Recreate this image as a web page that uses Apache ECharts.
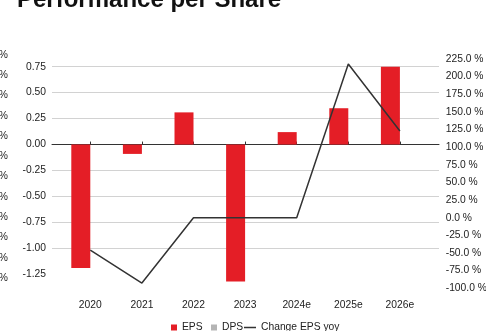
<!DOCTYPE html>
<html>
<head>
<meta charset="utf-8">
<script src="https://cdn.jsdelivr.net/npm/echarts@6/dist/echarts.min.js"></script>
<style>
html,body{margin:0;padding:0;background:#fff;}
#c{width:486px;height:331px;}
</style>
</head>
<body>
<div id="c"></div>
<script>
const categories = ['2020', '2021', '2022', '2023', '2024e', '2025e', '2026e'];
const eps = [-1.19, -0.09, 0.31, -1.32, 0.12, 0.35, 0.77];
const dps = [null, null, null, null, null, null, null];
const changeEpsYoy = [-46, -92.5, 0, 0, 0, 218, 123];
const titleText = 'Performance per Share';
const legendNames = ['EPS', 'DPS', 'Change EPS yoy'];

const FONT = 'Liberation Sans, Arial, sans-serif';
const FS = 10.3;
const TXT = '#222';
const RED = '#e41e26';
const GREY = '#b4b4b4';
const LINE = '#333333';

const chart = echarts.init(document.getElementById('c'), null, {renderer: 'canvas'});

const gridColors = ['rgba(0,0,0,0)', 'rgba(0,0,0,0)', '#d2d2d2', '#d2d2d2', '#d2d2d2', '#d2d2d2', '#d2d2d2', '#d2d2d2', '#d2d2d2', '#d2d2d2'];
const lineIcon = 'path://M0,0h0.01v0.01h-0.01z M0,2.35h12v1.3h-12z M11.99,5.99h0.01v0.01h-0.01z';

const option = {
  animation: false,
  backgroundColor: '#fff',
  textStyle: {fontFamily: FONT},
  title: {
    text: titleText, left: 12, top: -17,
    textStyle: {fontSize: 24, fontWeight: 'bold', color: '#111', fontFamily: FONT}
  },
  legend: [
    {data: [legendNames[0]], left: 171, top: 322.5, itemWidth: 6, itemHeight: 6, icon: 'rect', padding: 0,
      textStyle: {fontSize: FS, color: TXT, fontFamily: FONT}},
    {data: [legendNames[1]], left: 211, top: 322.5, itemWidth: 6, itemHeight: 6, icon: 'rect', padding: 0,
      textStyle: {fontSize: FS, color: TXT, fontFamily: FONT}},
    {data: [legendNames[2]], left: 244, top: 322.5, itemWidth: 12, itemHeight: 6, icon: lineIcon, padding: 0,
      textStyle: {fontSize: FS, color: TXT, fontFamily: FONT}}
  ],
  grid: [
    {left: 52, right: 47, top: 66.7, bottom: 30.7, outerBoundsMode: 'none'},
    {left: 64.5, right: 60.3, top: 66.7, bottom: 30.7, outerBoundsMode: 'none'},
    {left: 64.5, right: 60.3, top: 59, bottom: 42.7, outerBoundsMode: 'none'},
    {left: 52, right: 47, top: 55, bottom: 53, outerBoundsMode: 'none'}
  ],
  xAxis: [
    {gridIndex: 0, type: 'value', min: 0, max: 1, offset: -7,
      axisLine: {show: true, lineStyle: {color: LINE, width: 1}},
      axisTick: {show: false}, axisLabel: {show: false}, splitLine: {show: false}},
    {gridIndex: 1, type: 'category', data: categories, offset: -7,
      axisLine: {show: false},
      axisTick: {show: true, alignWithLabel: true, length: 3, inside: true, lineStyle: {color: LINE}},
      axisLabel: {margin: 7, fontSize: FS, color: TXT, fontFamily: FONT}},
    {gridIndex: 2, type: 'category', data: categories, show: false},
    {gridIndex: 3, type: 'value', show: false}
  ],
  yAxis: [
    {gridIndex: 0, type: 'value', min: -1.5, max: 0.75, interval: 0.25, position: 'left',
      axisLine: {show: false}, axisTick: {show: false},
      axisLabel: {margin: 6, fontSize: FS, color: TXT, fontFamily: FONT, showMinLabel: false,
        formatter: v => v.toFixed(2)},
      splitLine: {show: true, lineStyle: {color: gridColors, width: 1}}},
    {gridIndex: 1, type: 'value', min: -1.5, max: 0.75, interval: 0.25, show: false},
    {gridIndex: 2, type: 'value', min: -100, max: 225, interval: 25, position: 'right',
      axisLine: {show: false}, axisTick: {show: false}, splitLine: {show: false},
      axisLabel: {margin: 20, fontSize: FS, color: TXT, fontFamily: FONT,
        formatter: v => v.toFixed(1) + ' %'}},
    {gridIndex: 3, type: 'value', min: 0, max: 11, interval: 1, position: 'left', offset: 38,
      axisLine: {show: false}, axisTick: {show: false}, splitLine: {show: false},
      axisLabel: {margin: 6, fontSize: FS, color: TXT, fontFamily: FONT,
        formatter: v => (v * 2.5).toFixed(1) + ' %'}}
  ],
  series: [
    {name: 'EPS', type: 'bar', xAxisIndex: 1, yAxisIndex: 1, data: eps, barWidth: 19, barGap: '0%',
      itemStyle: {color: RED}},
    {name: 'DPS', type: 'bar', xAxisIndex: 1, yAxisIndex: 1, data: dps, barWidth: 19, barGap: '0%',
      itemStyle: {color: GREY}},
    {name: 'Change EPS yoy', type: 'line', xAxisIndex: 2, yAxisIndex: 2, data: changeEpsYoy,
      symbol: 'none', lineStyle: {color: LINE, width: 1.5}, itemStyle: {color: LINE}}
  ]
};
chart.setOption(option);
</script>
</body>
</html>
